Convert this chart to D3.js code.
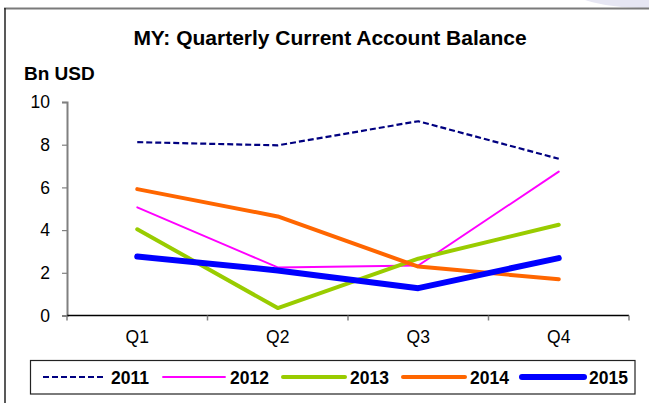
<!DOCTYPE html>
<html>
<head>
<meta charset="utf-8">
<script src="https://cdn.jsdelivr.net/npm/d3@7"></script>
<style>
  html, body { margin: 0; padding: 0; background: #fff; }
  svg { display: block; font-family: "Liberation Sans", Arial, sans-serif; }
</style>
</head>
<body>
<svg id="chart" width="649" height="403"></svg>
<script>
// Quarterly current account balance, billions of USD
const quarters = ["Q1", "Q2", "Q3", "Q4"];
const years = ["2011", "2012", "2013", "2014", "2015"];
const v2011 = [8.12, 7.97, 9.10, 7.34];
const v2012 = [5.07, 2.25, 2.34, 6.74];
const v2013 = [4.04, 0.35, 2.66, 4.25];
const v2014 = [5.92, 4.64, 2.29, 1.70];
const v2015 = [2.76, 2.11, 1.28, 2.69];
const yTicks = [0, 2, 4, 6, 8, 10];

const seriesStyle = {
  "2011": { color: "#000080", width: 2.2, dash: "6,3" },
  "2012": { color: "#FF00FF", width: 1.9, dash: null },
  "2013": { color: "#99CC00", width: 4, dash: null },
  "2014": { color: "#FF6600", width: 4, dash: null },
  "2015": { color: "#0000FF", width: 6, dash: null }
};
const series = [v2011, v2012, v2013, v2014, v2015].map((vals, i) => ({ year: years[i], values: vals }));

const svg = d3.select("#chart");

// frame decorations
svg.append("path")
  .attr("d", "M585,0 Q610,8 649,8 L649,0 Z")
  .attr("fill", "#e6e6f3");
svg.append("line").attr("x1", 4).attr("x2", 649).attr("y1", 8.5).attr("y2", 8.5)
  .attr("stroke", "#7a7a7a").attr("stroke-width", 2);
svg.append("line").attr("x1", 5).attr("x2", 5).attr("y1", 8).attr("y2", 403)
  .attr("stroke", "#222").attr("stroke-width", 1.5);

// title and unit label
svg.append("text").attr("x", 330).attr("y", 45).attr("text-anchor", "middle")
  .attr("font-size", 21).attr("font-weight", "bold").text("MY: Quarterly Current Account Balance");
svg.append("text").attr("x", 24).attr("y", 80)
  .attr("font-size", 19).attr("font-weight", "bold").text("Bn USD");

const plotLeft = 67, plotRight = 629, plotTop = 102, plotBottom = 315.5;
const x = d3.scaleBand().domain(quarters).range([plotLeft, plotRight]);
const y = d3.scaleLinear().domain([0, 10]).range([plotBottom, plotTop]);

// y axis
const yAxis = svg.append("g").attr("transform", `translate(${plotLeft},0)`)
  .call(d3.axisLeft(y).tickValues(yTicks).tickSize(5).tickPadding(12));
yAxis.select(".domain").attr("stroke", "#808080").attr("stroke-width", 2);
yAxis.selectAll(".tick line").attr("stroke", "#808080").attr("stroke-width", 1.2);
yAxis.selectAll("text").attr("font-size", 17.5).attr("fill", "#000")
  .attr("font-family", "Liberation Sans, Arial, sans-serif");

// x axis with boundary ticks between categories
const xAxisG = svg.append("g").attr("transform", `translate(0,${plotBottom})`);
xAxisG.append("line").attr("x1", plotLeft).attr("x2", plotRight).attr("y1", 0).attr("y2", 0)
  .attr("stroke", "#000").attr("stroke-width", 1.5);
const bounds = quarters.map(q => x(q)).concat([plotRight]);
xAxisG.selectAll("line.tk").data(bounds).enter().append("line")
  .attr("class", "tk")
  .attr("x1", d => d).attr("x2", d => d).attr("y1", 0).attr("y2", 5)
  .attr("stroke", "#808080").attr("stroke-width", 1.5);
xAxisG.selectAll("text").data(quarters).enter().append("text")
  .attr("x", d => x(d) + x.bandwidth() / 2).attr("y", 27.5)
  .attr("text-anchor", "middle").attr("font-size", 17.5).text(d => d);

// series lines
const line = d3.line()
  .x((d, i) => x(quarters[i]) + x.bandwidth() / 2)
  .y(d => y(d));

svg.append("g").selectAll("path").data(series).enter().append("path")
  .attr("d", d => line(d.values))
  .attr("fill", "none")
  .attr("stroke", d => seriesStyle[d.year].color)
  .attr("stroke-width", d => seriesStyle[d.year].width)
  .attr("stroke-dasharray", d => seriesStyle[d.year].dash)
  .attr("stroke-linejoin", "round")
  .attr("stroke-linecap", d => seriesStyle[d.year].dash ? "butt" : "round");

// legend
const legend = svg.append("g");
legend.append("rect").attr("x", 30.5).attr("y", 360.5).attr("width", 604.5).attr("height", 33.5)
  .attr("fill", "#fff").attr("stroke", "#222").attr("stroke-width", 1.2);
const legX = [43, 162, 282, 402, 521];
const items = legend.selectAll("g.item").data(series).enter().append("g").attr("class", "item")
  .attr("transform", (d, i) => `translate(${legX[i]},377)`);
items.append("line").attr("x1", d => seriesStyle[d.year].dash ? 0 : 1)
  .attr("x2", d => seriesStyle[d.year].dash ? 61 : 63).attr("y1", 0).attr("y2", 0)
  .attr("stroke", d => seriesStyle[d.year].color)
  .attr("stroke-width", d => seriesStyle[d.year].width)
  .attr("stroke-dasharray", d => seriesStyle[d.year].dash)
  .attr("stroke-linecap", d => seriesStyle[d.year].dash ? "butt" : "round");
items.append("text").attr("x", 68).attr("y", 6.5)
  .attr("font-size", 17.5).attr("font-weight", "bold").text(d => d.year);
</script>
</body>
</html>
